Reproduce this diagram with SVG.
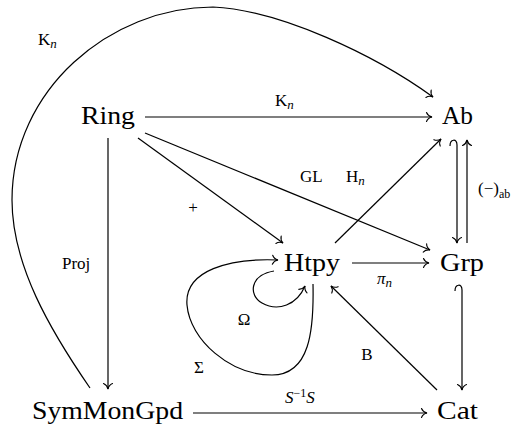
<svg xmlns="http://www.w3.org/2000/svg" width="528" height="429" viewBox="0 0 528 429">
<defs>
<style>
text{font-family:'Liberation Serif','DejaVu Serif',serif;fill:#000}
.node{font-size:25px}
.lbl{font-size:17px}
.it{font-style:italic}
.a{fill:none;stroke:#000;stroke-width:1.2;marker-end:url(#tip)}
</style>
<marker id="tip" viewBox="-7 -6 9 12" refX="0" refY="0" markerWidth="9" markerHeight="12" markerUnits="userSpaceOnUse" orient="auto">
<path d="M -5.5 -4.5 C -4.4 -1.7, -1.7 -0.4, 0 0 C -1.7 0.4, -4.4 1.7, -5.5 4.5" fill="none" stroke="#000" stroke-width="1.1" stroke-linecap="round"/>
</marker>
</defs>
<rect width="528" height="429" fill="#fff"/>
<g id="connectors">
<path class="a" d="M 145 117 L 432 117"/>
<path class="a" d="M 108 138 L 108 389"/>
<path class="a" d="M 138 138 L 283 243"/>
<path class="a" d="M 145 133 L 430 250"/>
<path class="a" d="M 335 243 L 441 139"/>
<path class="a" d="M 352 263 L 429 263"/>
<path class="a" d="M 450 146 C 450 139, 457 138, 457 145 L 457 243"/>
<path class="a" d="M 467 243 L 467 140"/>
<path class="a" d="M 455 291 C 455 284, 462 283, 462 290 L 462 390"/>
<path class="a" d="M 437 390 L 331 286"/>
<path class="a" d="M 193 413 L 427 413"/>
<path class="a" d="M 90 388 C 50 330, 12 265, 12 200 C 12 90, 110 7, 213 7 C 280 10, 375 55, 433 97"/>
<path class="a" d="M 274 271 C 250 275, 248 295, 262 303 C 278 312, 297 305, 305 286"/>
<path class="a" d="M 313 284 C 314 330, 310 375, 272 375 C 230 375, 190 340, 187 305 C 184 270, 230 258, 278 260"/>
</g>
<g id="Ring"><text class="node" x="81" y="124" textLength="54" lengthAdjust="spacingAndGlyphs">Ring</text></g>
<g id="Ab"><text class="node" x="442" y="124" textLength="31" lengthAdjust="spacingAndGlyphs">Ab</text></g>
<g id="Htpy"><text class="node" x="284" y="271" textLength="56" lengthAdjust="spacingAndGlyphs">Htpy</text></g>
<g id="Grp"><text class="node" x="440" y="271" textLength="44" lengthAdjust="spacingAndGlyphs">Grp</text></g>
<g id="SymMonGpd"><text class="node" x="32" y="419" textLength="151" lengthAdjust="spacingAndGlyphs">SymMonGpd</text></g>
<g id="Cat"><text class="node" x="437" y="419" textLength="41" lengthAdjust="spacingAndGlyphs">Cat</text></g>
<g id="labels">
<text class="lbl" x="275" y="106">K<tspan class="it" font-size="13" dy="3">n</tspan></text>
<text class="lbl" x="38" y="45">K<tspan class="it" font-size="13" dy="3">n</tspan></text>
<text class="lbl" x="62" y="269">Proj</text>
<text class="lbl" x="193" y="213" text-anchor="middle">+</text>
<text class="lbl" x="300" y="182">GL</text>
<text class="lbl" x="346" y="182">H<tspan class="it" font-size="13" dy="3">n</tspan></text>
<text class="lbl" x="478" y="194">(−)<tspan font-size="12" dy="4">ab</tspan></text>
<text class="lbl" x="377" y="284"><tspan class="it">π</tspan><tspan class="it" font-size="13" dy="3">n</tspan></text>
<text class="lbl" x="244" y="325" text-anchor="middle">Ω</text>
<text class="lbl" x="199" y="373" text-anchor="middle">Σ</text>
<text class="lbl" x="367" y="360" text-anchor="middle">B</text>
<text class="lbl" x="285" y="403"><tspan class="it">S</tspan><tspan font-size="12" dy="-6">−1</tspan><tspan class="it" dy="6">S</tspan></text>
</g>
</svg>
